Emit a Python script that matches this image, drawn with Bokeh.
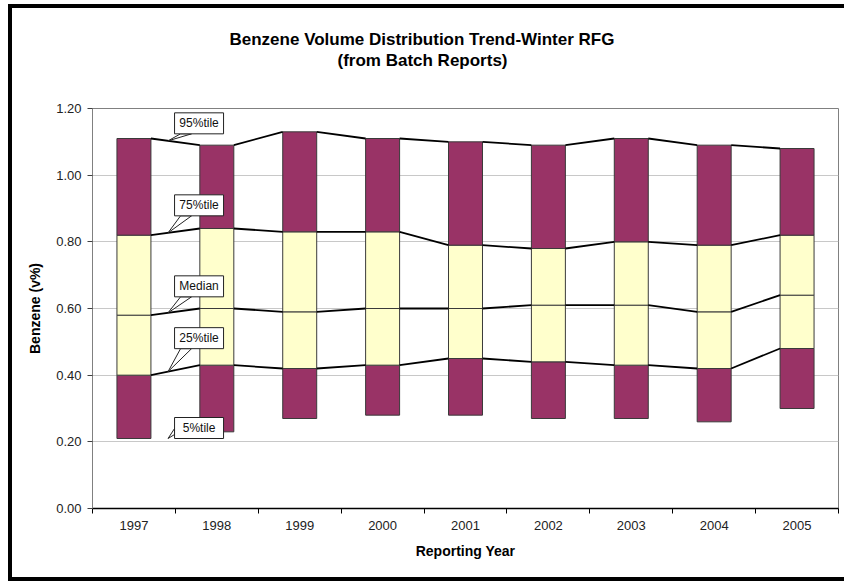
import numpy as np
from bokeh.plotting import figure
from bokeh.models import Range1d, FixedTicker, NumeralTickFormatter, Title
from bokeh.embed import file_html
from bokeh.resources import INLINE

# ---------------- data ----------------
years = ["1997", "1998", "1999", "2000", "2001", "2002", "2003", "2004", "2005"]
p05 = [0.21, 0.23, 0.27, 0.28, 0.28, 0.27, 0.27, 0.26, 0.30]
p25 = [0.40, 0.43, 0.42, 0.43, 0.45, 0.44, 0.43, 0.42, 0.48]
p50 = [0.58, 0.60, 0.59, 0.60, 0.60, 0.61, 0.61, 0.59, 0.64]
p75 = [0.82, 0.84, 0.83, 0.83, 0.79, 0.78, 0.80, 0.79, 0.82]
p95 = [1.11, 1.09, 1.13, 1.11, 1.10, 1.09, 1.11, 1.09, 1.08]
y_ticks = [0.0, 0.2, 0.4, 0.6, 0.8, 1.0, 1.2]
callout_labels = ["95%tile", "75%tile", "Median", "25%tile", "5%tile"]
title_line1 = "Benzene Volume Distribution Trend-Winter RFG"
title_line2 = "(from Batch Reports)"

# ---------------- styles ----------------
PURPLE = "#993366"
YELLOW = "#FFFFCC"
FONT = "Liberation Sans"
W, H = 844, 584
ML, MR, MT, MB = 92, 6, 108, 76
BW = 0.41

n = len(years)
xc = np.arange(n) + 0.5
y_max = 1.2

frame_css = {
    "background-color": "white",
    "background-image": "linear-gradient(#000,#000), linear-gradient(#000,#000), linear-gradient(#000,#000)",
    "background-position": "8px 4px, 8px 4px, 8px 577px",
    "background-size": "4px 577px, 836px 4px, 836px 4px",
    "background-repeat": "no-repeat",
}

p = figure(width=W, height=H, output_backend="svg", toolbar_location=None,
           x_range=Range1d(0, n), y_range=Range1d(0, y_max),
           min_border_left=ML, min_border_right=MR, min_border_top=MT, min_border_bottom=MB,
           background_fill_color="white", border_fill_color="white", border_fill_alpha=0,
           outline_line_color="#808080", outline_line_width=1)
p.styles = frame_css

frame_w = W - ML - MR
frame_h = H - MT - MB
dx = n / frame_w          # data units per pixel (x)
dy = y_max / frame_h      # data units per pixel (y)

# stacked boxes
segments = [(p05, p25, PURPLE), (p25, p50, YELLOW), (p50, p75, YELLOW), (p75, p95, PURPLE)]
for lo, hi, col in segments:
    p.vbar(x=xc, width=BW, bottom=lo, top=hi, fill_color=col,
           line_color="#3a3a3a", line_width=1)

# series lines between the columns
x0 = xc[:-1] + BW / 2
x1 = xc[1:] - BW / 2
for lvl in [p25, p50, p75, p95]:
    lv = np.array(lvl)
    p.segment(x0=x0, y0=lv[:-1], x1=x1, y1=lv[1:], line_color="black", line_width=1.8)

# callouts
box_w_px, box_h_px = 49, 21
rise_px = [7, 17, 16, 23, 0]
tip_x = x0[0] + 0.35 * (x1[0] - x0[0])
levels = [p95, p75, p50, p25, p05]
tri_xs, tri_ys = [], []
bl, br, bt, bb, tx, ty = [], [], [], [], [], []
for lab, lvl, rise in zip(callout_labels, levels, rise_px):
    if lvl is p05:
        tip_y = lvl[0]
    else:
        tip_y = lvl[0] + 0.35 * (lvl[1] - lvl[0])
    left = tip_x + 6.5 * dx
    bottom = tip_y + rise * dy
    right = left + box_w_px * dx
    top = bottom + box_h_px * dy
    if rise == 0:
        tri_xs.append([tip_x, left, left])
        tri_ys.append([tip_y, bottom + 4 * dy, bottom + 10 * dy])
    else:
        tri_xs.append([tip_x, left + 6 * dx, left + 17 * dx])
        tri_ys.append([tip_y, bottom, bottom])
    bl.append(left); br.append(right); bt.append(top); bb.append(bottom)
    tx.append((left + right) / 2); ty.append((top + bottom) / 2)

p.patches(xs=tri_xs, ys=tri_ys, fill_color="white", line_color="#222222", line_width=1)
p.quad(left=bl, right=br, top=bt, bottom=bb, fill_color="white", line_color="#222222", line_width=1)
p.text(x=tx, y=ty, text=callout_labels, text_align="center", text_baseline="middle",
       text_font={"value": FONT}, text_font_size={"value": "12px"}, text_color="#111111")

# axes
p.xaxis.ticker = FixedTicker(ticks=list(xc), minor_ticks=list(range(n + 1)))
p.xaxis.major_label_overrides = {float(v): y for v, y in zip(xc, years)}
p.xaxis.major_tick_out = 0
p.xaxis.major_tick_in = 0
p.xaxis.minor_tick_out = 5
p.xaxis.minor_tick_in = 0
p.xaxis.minor_tick_line_color = "black"
p.xaxis.axis_line_color = "black"
p.xaxis.axis_line_width = 1.5
p.xaxis.major_label_standoff = 7
p.xaxis.axis_label = "Reporting Year"
p.xaxis.axis_label_standoff = 10

p.yaxis.ticker = FixedTicker(ticks=y_ticks)
p.yaxis.formatter = NumeralTickFormatter(format="0.00")
p.yaxis.major_tick_out = 5
p.yaxis.major_tick_in = 0
p.yaxis.minor_tick_line_color = None
p.yaxis.axis_line_color = "#808080"
p.yaxis.major_tick_line_color = "#404040"
p.yaxis.major_label_standoff = 6
p.yaxis.axis_label = "Benzene (v%)"
p.yaxis.axis_label_standoff = 10

for ax in (p.xaxis, p.yaxis):
    ax.major_label_text_font = FONT
    ax.major_label_text_font_size = "13px"
    ax.major_label_text_color = "#222222"
    ax.axis_label_text_font = FONT
    ax.axis_label_text_font_size = "14px"
    ax.axis_label_text_font_style = "bold"
    ax.axis_label_text_color = "black"

p.xgrid.grid_line_color = None
p.ygrid.ticker = FixedTicker(ticks=y_ticks)
p.ygrid.grid_line_color = "#c8c8c8"

# titles (first added sits nearest the frame)
has_standoff = "standoff" in Title.properties()
def mk_title(text, size, offset):
    t = Title(text=text, align="left", offset=offset, text_font=FONT,
              text_font_size=size, text_font_style="bold", text_color="black")
    if has_standoff:
        t.standoff = 0
    return t

p.add_layout(mk_title(" ", "33px", 0), "above")
p.add_layout(mk_title(title_line2, "17px", 245), "above")
p.add_layout(mk_title(title_line1, "17px", 137), "above")

open("out.html", "w").write(file_html(p, INLINE))
